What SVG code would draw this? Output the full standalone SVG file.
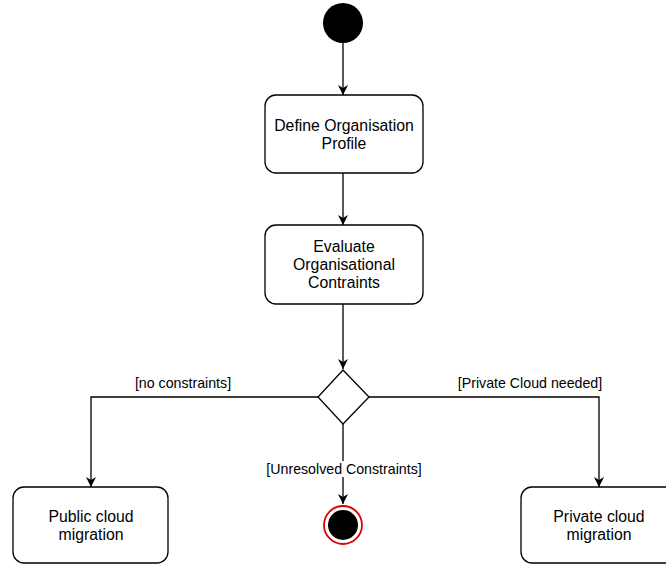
<svg xmlns="http://www.w3.org/2000/svg" width="666" height="565" viewBox="0 0 666 565">
  <defs>
    <marker id="arrow" viewBox="0 0 10 10" refX="10" refY="5" markerWidth="10" markerHeight="10" markerUnits="userSpaceOnUse" orient="auto">
      <path d="M0,0 L10,5 L0,10 L3,5 Z" fill="#000"/>
    </marker>
  </defs>
  <style>
    .action { fill: #fff; stroke: #000; stroke-width: 1.3; }
    .txt { font-family: "Liberation Sans", Arial, sans-serif; font-size: 15.8px; fill: #000; text-anchor: middle; }
    .lbl { font-family: "Liberation Sans", Arial, sans-serif; font-size: 14.2px; fill: #000; text-anchor: middle; }
    .edge { fill: none; stroke: #000; stroke-width: 1.3; }
  </style>
  <rect width="666" height="565" fill="#fff"/>

  <g id="connectors">
    <path class="edge" d="M343,43 L343,95" marker-end="url(#arrow)"/>
    <path class="edge" d="M343,173 L343,225" marker-end="url(#arrow)"/>
    <path class="edge" d="M343,304 L343,369" marker-end="url(#arrow)"/>
    <path class="edge" d="M318,397 L91,397 L91,487" marker-end="url(#arrow)"/>
    <text class="lbl" x="183" y="388">[no constraints]</text>
    <path class="edge" d="M369,397 L599,397 L599,487" marker-end="url(#arrow)"/>
    <text class="lbl" x="530" y="388">[Private Cloud needed]</text>
    <path class="edge" d="M343,424 L343,504" marker-end="url(#arrow)"/>
    <rect x="265" y="461" width="156" height="16" fill="#fff"/>
    <text class="lbl" x="344" y="474">[Unresolved Constraints]</text>
  </g>

  <g id="start">
    <circle cx="343" cy="23" r="20" fill="#000"/>
  </g>

  <g id="define-profile">
    <rect class="action" x="265" y="95" width="158" height="78" rx="11"/>
    <text class="txt" x="344" y="131">Define Organisation</text>
    <text class="txt" x="344" y="149">Profile</text>
  </g>

  <g id="evaluate-constraints">
    <rect class="action" x="265" y="225" width="158" height="79" rx="11"/>
    <text class="txt" x="344" y="252">Evaluate</text>
    <text class="txt" x="344" y="270">Organisational</text>
    <text class="txt" x="344" y="288">Contraints</text>
  </g>

  <g id="decision">
    <polygon class="action" points="343,370 369,397 343,424 318,397"/>
  </g>

  <g id="public-cloud">
    <rect class="action" x="13" y="487" width="155" height="76" rx="11"/>
    <text class="txt" x="91" y="522">Public cloud</text>
    <text class="txt" x="91" y="540">migration</text>
  </g>

  <g id="end">
    <circle cx="343" cy="525" r="19" fill="#fff" stroke="#e00000" stroke-width="1.8"/>
    <circle cx="343" cy="525" r="15" fill="#000"/>
  </g>

  <g id="private-cloud">
    <rect class="action" x="521" y="487" width="158" height="76" rx="11"/>
    <text class="txt" x="599" y="522">Private cloud</text>
    <text class="txt" x="599" y="540">migration</text>
  </g>
</svg>
